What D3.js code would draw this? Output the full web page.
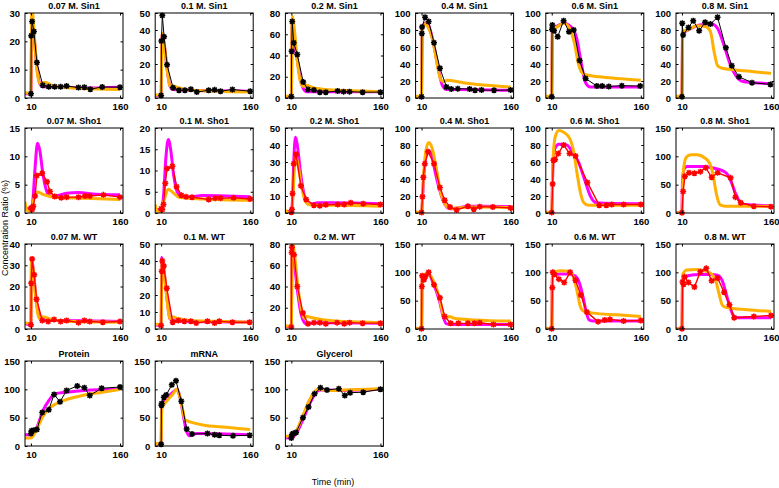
<!DOCTYPE html>
<html><head><meta charset="utf-8">
<script src="https://cdn.jsdelivr.net/npm/d3@7"></script>
<style>body{margin:0;background:#fff}</style></head>
<body><svg id="c" width="779" height="488"></svg>
<script>
const titles = ["0.07 M. Sin1","0.1 M. Sin1","0.2 M. Sin1","0.4 M. Sin1","0.6 M. Sin1","0.8 M. Sin1",
  "0.07 M. Sho1","0.1 M. Sho1","0.2 M. Sho1","0.4 M. Sho1","0.6 M. Sho1","0.8 M. Sho1",
  "0.07 M. WT","0.1 M. WT","0.2 M. WT","0.4 M. WT","0.6 M. WT","0.8 M. WT",
  "Protein","mRNA","Glycerol"];
const yMaxes = [30,50,80,100,100,100, 15,20,50,100,100,150, 40,50,80,150,150,150, 150,150,150];
const yTickSteps = [10,10,20,20,20,20, 5,5,10,20,20,50, 10,10,20,50,50,50, 50,50,50];
const xTicks = [10,160];
const xDomain = [0,165];
const dataColor = ["black","black","black","black","black","black",
  "red","red","red","red","red","red","red","red","red","red","red","red",
  "black","black","black"];

const observed = [
 [[10,1.5],[10.5,22],[12,27],[15,23.5],[20,12.5],[30,4.5],[40,4],[50,4],[60,4],[70,4.2],[90,3.7],[100,3.8],[110,3.1],[130,3.9],[160,3.8]],
 [[10,1.5],[10.5,33.5],[12,48.5],[15,36],[20,19.5],[30,6],[40,4.5],[50,4.5],[60,5.2],[70,3.5],[90,4.5],[100,4.8],[110,4],[130,5],[160,4]],
 [[10,1.5],[10.5,44],[11.5,72],[14,52],[20,41],[30,15],[38,8],[48,7.5],[58,5.5],[68,5.5],[88,6.5],[98,6],[108,6],[130,5.5],[160,5.5]],
 [[10,1.5],[10.5,76],[11,83.5],[16,95],[22,90],[31,65],[41,35],[52,13],[60,10.5],[71,11],[91,10.5],[100,9],[111,9.5],[132,9],[160,9.5]],
 [[10,1.5],[10.5,81],[11,86],[14,79],[20,72],[30,91],[39,78],[47,80],[57,44],[67,23],[86,14],[95,14],[106,13.5],[128,14.5],[159,14]],
 [[10,1.5],[10.5,88],[12,74],[21,83],[29,91],[39,79],[49,89],[58,87],[70,95],[84,59],[94,38],[106,25],[128,18],[159,16]],
 [[10,0.9],[12,0.6],[14,1.2],[17,3],[20,6.6],[29,7],[37,5.5],[42,3.8],[50,2.9],[61,2.7],[70,2.8],[90,2.8],[101,3],[109,3],[132,3.2],[160,2.8]],
 [[10,1],[12,0.8],[14,2],[17,7],[20,10.5],[29,11],[36,6.2],[44,4.2],[52,3.8],[62,3.7],[90,3.2],[101,3.5],[110,3.5],[132,3.6],[160,3.3]],
 [[10,0.5],[11,2],[12,11.5],[14,29],[18,34.5],[26,16],[35,8],[48,4.5],[58,4.2],[68,4.8],[88,5],[99,5],[110,6],[131,5.5],[160,5]],
 [[10,0.5],[11.5,19],[13,42],[15.5,58],[21,72],[31,58],[41,30],[49,15],[58,7],[69,3.5],[88,8],[98,4.5],[108,7.5],[130,7],[160,6]],
 [[10,0.5],[11.5,34],[12.8,62],[15.6,63],[21,70],[30,80],[40,70],[50,67],[70,36],[90,9],[102,9],[111,10],[131,10],[160,10]],
 [[10,0.5],[12,38],[15,65],[22,71],[31,70],[41,73],[50,80],[60,63],[70,71],[92,62],[100,28],[109,18],[131,12],[160,11]],
 [[10,2],[10.5,21.5],[12,33],[15.5,25.5],[19.5,14],[29,4],[39,3.5],[49,4.5],[60,3.5],[70,4],[90,3],[100,4],[109,3.5],[131,3.2],[160,3.5]],
 [[10,2],[11,34],[12,40],[14.5,37],[19.5,24],[29.5,4],[39,5],[49,4.5],[60,4.5],[69,3.5],[88,4.5],[100,3.5],[108,4.5],[130,4],[159,4]],
 [[10,2],[10.5,72],[11,77],[14.5,70],[20,40],[29.5,15],[38,5],[48,6],[58,6],[68,5],[87,6],[99,5],[108,6],[130,5.5],[160,5.5]],
 [[10,0.5],[10.5,75],[11,94],[14,87],[16.7,93],[22,100],[31,78],[41,55],[49,22],[59,10],[72,10],[88,10],[99,10],[108,11],[131,8],[160,8]],
 [[10,0.5],[11,73],[11.7,100],[14.5,96],[22,88],[31,82],[41,100],[50,86],[59,60],[69,30],[88,13],[99,16],[108,17],[131,14],[160,15]],
 [[10,0.5],[11,83],[12.8,79],[14.5,92],[21,82],[31,74],[41,101],[51,107],[60,85],[70,90],[81,65],[90,43],[98,20],[131,22],[160,24]],
 [[10,22],[11,27],[15,28],[20,29],[29,59],[40,64],[49,91],[59,78],[70,98],[88,106],[100,103],[109,89],[129,102],[160,104]],
 [[10,3],[10.5,72],[11,75],[14.5,86],[18.5,90],[28,108],[35,115],[44,79],[53,30],[62,21],[88,22],[100,20],[108,19],[131,18],[159,19]],
 [[10,14],[11,20],[13,22],[18,24],[29.5,50],[39,69],[49,92],[59,103],[70,99],[90,101],[100,89],[109,94],[131,95],[160,100]]
];

const modelMagenta = [
 [[0,1.5],[10,1.5],[11.5,27],[15,22],[20,11],[25,5],[30,4],[60,4],[100,3.5],[160,3.8]],
 [[0,1.5],[10,1.5],[11.5,37],[15,32],[20,17],[25,7],[30,5],[60,4.5],[160,4]],
 [[0,1.5],[10,1.5],[11.5,70],[14,55],[20,36],[25,18],[30,9],[35,6],[60,6],[160,6]],
 [[0,1.5],[10,1.5],[11,82],[16,88],[22,85],[30,65],[38,35],[45,15],[52,10],[70,10],[160,9]],
 [[0,1.5],[10,1.5],[11,80],[20,85],[30,88],[45,82],[52,70],[60,40],[67,18],[75,13],[160,13]],
 [[0,1.5],[10,1.5],[11,76],[20,80],[40,86],[60,87],[70,82],[77,70],[84,55],[92,38],[100,27],[110,20],[130,18],[160,17]],
 [[0,1],[10,0.5],[13,2],[17,8],[21,12.3],[25,11],[30,7],[36,4],[42,3],[50,3],[70,3.5],[90,3.6],[120,3.3],[160,3.2]],
 [[0,1],[10,0.5],[14,4],[18,13],[22,17.3],[26,15],[31,9],[37,5],[45,3.7],[60,3.8],[80,4.1],[120,4],[160,3.8]],
 [[0,1],[10,0.5],[12,8],[14,30],[17,44.5],[20,40],[25,25],[32,10],[40,5],[55,6],[80,6],[160,5.5]],
 [[0,1],[10,0.5],[13,35],[17,65],[22,73],[27,68],[33,48],[40,28],[48,12],[58,5],[70,6],[90,8],[120,8],[160,7.5]],
 [[0,1],[10,0.5],[12,55],[16,77],[22,81],[35,80],[45,72],[55,60],[65,40],[75,20],[85,12],[100,11.5],[160,11]],
 [[0,1],[10,0.5],[11,60],[15,80],[20,82],[45,82],[60,80],[75,76],[85,70],[93,55],[100,35],[106,22],[115,15],[160,13]],
 [[0,2.5],[10,2],[11,33],[14,28],[18,16],[24,6],[30,4],[60,4],[160,3.5]],
 [[0,2.5],[10,2],[11,42],[14,37],[18,24],[25,6],[30,5],[50,4.5],[160,4]],
 [[0,2.5],[10,2],[11,78],[14,68],[19,42],[25,18],[30,8],[35,5],[50,6],[160,5.5]],
 [[0,1],[10,0.5],[11,88],[15,95],[22,96],[30,80],[40,50],[47,20],[52,9],[60,8],[160,8]],
 [[0,1],[10,0.5],[11,92],[15,96],[25,97],[40,97],[50,93],[57,80],[63,55],[68,30],[73,16],[80,14],[160,14]],
 [[0,1],[10,0.5],[11,88],[20,94],[40,96],[60,96],[70,95],[78,85],[85,60],[92,35],[98,22],[105,20],[160,20]],
 [[0,20],[10,20],[15,25],[20,33],[30,62],[40,80],[50,92],[70,95],[100,98],[160,100]],
 [[0,4],[10,3],[11,72],[20,85],[30,95],[37,100],[42,85],[48,50],[53,25],[58,18],[70,22],[160,20]],
 [[0,15],[10,14],[20,25],[30,48],[40,72],[50,92],[58,99],[70,99],[100,98],[160,100]]
];

const modelOrange = [
 [[0,2],[10,1.5],[11,28],[12,31],[15,24],[20,10],[25,5],[30,5.5],[35,5.5],[45,4.5],[80,3.5],[160,3]],
 [[0,2],[10,1.5],[11,30],[12,38],[15,32],[20,17],[25,7],[30,7],[40,6],[60,4.5],[160,3.5]],
 [[0,2],[10,1.5],[11,70],[12,77],[15,65],[20,35],[25,16],[30,11],[35,12],[45,10],[60,8.5],[100,7],[160,6]],
 [[0,2],[10,1.5],[11,82],[16,87],[22,82],[28,70],[35,45],[42,22],[47,19],[53,21],[60,20.5],[80,18],[120,15],[160,13]],
 [[0,2],[10,1.5],[11,80],[20,84],[30,88],[40,82],[48,65],[55,40],[62,29],[70,27],[90,25],[120,23],[160,21]],
 [[0,2],[10,1.5],[11,78],[20,80],[35,85],[50,84],[58,78],[64,55],[70,38],[78,35],[100,33],[130,31],[160,29]],
 [[0,2],[3,0.5],[10,0.3],[15,2.5],[21,3.7],[30,3.3],[50,2.8],[100,2.6],[160,2.4]],
 [[0,2],[3,0.5],[10,0.3],[15,3],[22,5.6],[30,4.8],[40,3.7],[80,3.3],[160,3]],
 [[0,2],[3,0.5],[10,0.3],[12,6],[15,25],[18,33],[22,27],[28,14],[35,6],[45,4.5],[80,4.5],[160,4]],
 [[0,2],[3,0.5],[10,0.3],[13,40],[17,72],[22,83],[28,76],[35,52],[42,25],[50,10],[60,5],[70,6],[100,7],[160,6.5]],
 [[0,2],[3,0.5],[10,0.3],[12,60],[16,90],[22,97],[30,95],[40,88],[47,72],[53,45],[58,25],[64,12],[72,9],[100,9],[160,9]],
 [[0,2],[3,0.5],[10,0.3],[12,70],[17,98],[25,103],[35,103],[50,96],[57,87],[62,70],[66,45],[70,25],[75,14],[85,12],[160,12]],
 [[0,3],[10,2.5],[11,32],[14,28],[18,15],[24,5],[30,5.8],[35,5.5],[45,4.5],[80,3.5],[160,3.2]],
 [[0,3],[10,2.5],[11.5,40],[15,34],[19,20],[25,6],[30,7],[40,6],[60,5],[100,4.5],[160,4]],
 [[0,3],[10,2.5],[11.5,82],[15,72],[20,45],[27,18],[32,10],[36,12],[42,11],[60,9],[100,7],[160,6]],
 [[0,2],[3,0.5],[10,0.3],[11,88],[16,97],[22,97],[30,85],[40,55],[47,25],[52,20],[57,22],[65,19],[100,16],[160,14]],
 [[0,2],[3,0.5],[10,0.3],[11,90],[16,101],[25,103],[40,102],[47,90],[53,65],[58,40],[63,32],[80,28],[120,25],[160,22]],
 [[0,2],[3,0.5],[10,0.3],[11,95],[18,104],[35,105],[50,102],[60,97],[67,85],[73,60],[78,42],[85,38],[120,34],[160,31]],
 [[0,14],[10,14],[15,20],[20,30],[30,52],[40,66],[50,73],[70,82],[100,90],[130,95],[160,100]],
 [[0,5],[10,3],[11,65],[20,80],[30,92],[36,100],[40,92],[46,65],[50,47],[55,44],[60,42],[80,37],[120,33],[160,29]],
 [[0,17],[10,17],[20,30],[30,55],[40,80],[50,97],[55,100],[70,98],[100,99],[160,101]]
];

const svg = d3.select("#c");
const FONT = "'Liberation Sans', Arial, sans-serif";
const colLeft = c => 25 + c * 130.2;
const rowTop = [13, 128, 244, 361];
const W = 98, H = 85;
const starPath = "M-3,0L3,0M0,-3L0,3M-2.2,-2.2L2.2,2.2M-2.2,2.2L2.2,-2.2";

titles.forEach((title, i) => {
  const r = Math.floor(i / 6), c = i % 6;
  const g = svg.append("g").attr("transform", `translate(${colLeft(c)},${rowTop[r]})`);
  const x = d3.scaleLinear().domain(xDomain).range([0, W]);
  const y = d3.scaleLinear().domain([0, yMaxes[i]]).range([H, 0]);
  const yt = d3.range(0, yMaxes[i] + 0.001, yTickSteps[i]);

  g.append("clipPath").attr("id", "cp" + i).append("rect").attr("width", W).attr("height", H);

  const yAxis = d3.axisLeft(y).tickValues(yt).tickSizeInner(-2.5).tickSizeOuter(0).tickPadding(5);
  const yAxisR = d3.axisRight(y).tickValues(yt).tickSizeInner(-2.5).tickSizeOuter(0).tickFormat("");
  const xAxis = d3.axisBottom(x).tickValues(xTicks).tickSizeInner(-2.5).tickSizeOuter(0).tickPadding(5);
  const xAxisT = d3.axisTop(x).tickValues(xTicks).tickSizeInner(-2.5).tickSizeOuter(0).tickFormat("");

  const plot = g.append("g").attr("clip-path", `url(#cp${i})`);
  const line = d3.line().x(d => x(d[0])).y(d => y(d[1]));
  const smooth = d3.line().x(d => x(d[0])).y(d => y(d[1])).curve(d3.curveMonotoneX);

  plot.append("path").datum(modelMagenta[i]).attr("d", smooth)
    .attr("fill", "none").attr("stroke", "#ff00ff").attr("stroke-width", 3).attr("stroke-linejoin", "round");
  plot.append("path").datum(modelOrange[i]).attr("d", smooth)
    .attr("fill", "none").attr("stroke", "#ffb000").attr("stroke-width", 3).attr("stroke-linejoin", "round");
  const col = dataColor[i];
  plot.append("path").datum(observed[i]).attr("d", line)
    .attr("fill", "none").attr("stroke", col).attr("stroke-width", col === "red" ? 1.4 : 1);
  g.append("g").selectAll("path").data(observed[i]).join("path")
    .attr("transform", d => `translate(${x(d[0])},${y(d[1])})`)
    .attr("d", starPath).attr("stroke", col).attr("stroke-width", 1.5).attr("fill", "none");

  [g.append("g").call(yAxis),
   g.append("g").attr("transform", `translate(${W},0)`).call(yAxisR),
   g.append("g").attr("transform", `translate(0,${H})`).call(xAxis),
   g.append("g").call(xAxisT)].forEach(a => {
     a.select(".domain").remove();
     a.selectAll("line").attr("stroke", "#000");
     a.selectAll("text").attr("font-family", FONT).attr("font-size", 9.5).attr("font-weight", "bold").attr("fill", "#000");
  });
  g.append("rect").attr("width", W).attr("height", H).attr("fill", "none").attr("stroke", "#000").attr("stroke-width", 1);

  g.append("text").attr("x", W / 2).attr("y", -4).attr("text-anchor", "middle")
    .attr("font-family", FONT).attr("font-size", 9).attr("font-weight", "bold").text(title);
});

svg.append("text").attr("transform", "translate(8,228) rotate(-90)").attr("text-anchor", "middle")
  .attr("font-family", FONT).attr("font-size", 9).text("Concentration Ratio (%)");
svg.append("text").attr("x", 333).attr("y", 485).attr("text-anchor", "middle")
  .attr("font-family", FONT).attr("font-size", 9).text("Time (min)");
</script></body></html>
